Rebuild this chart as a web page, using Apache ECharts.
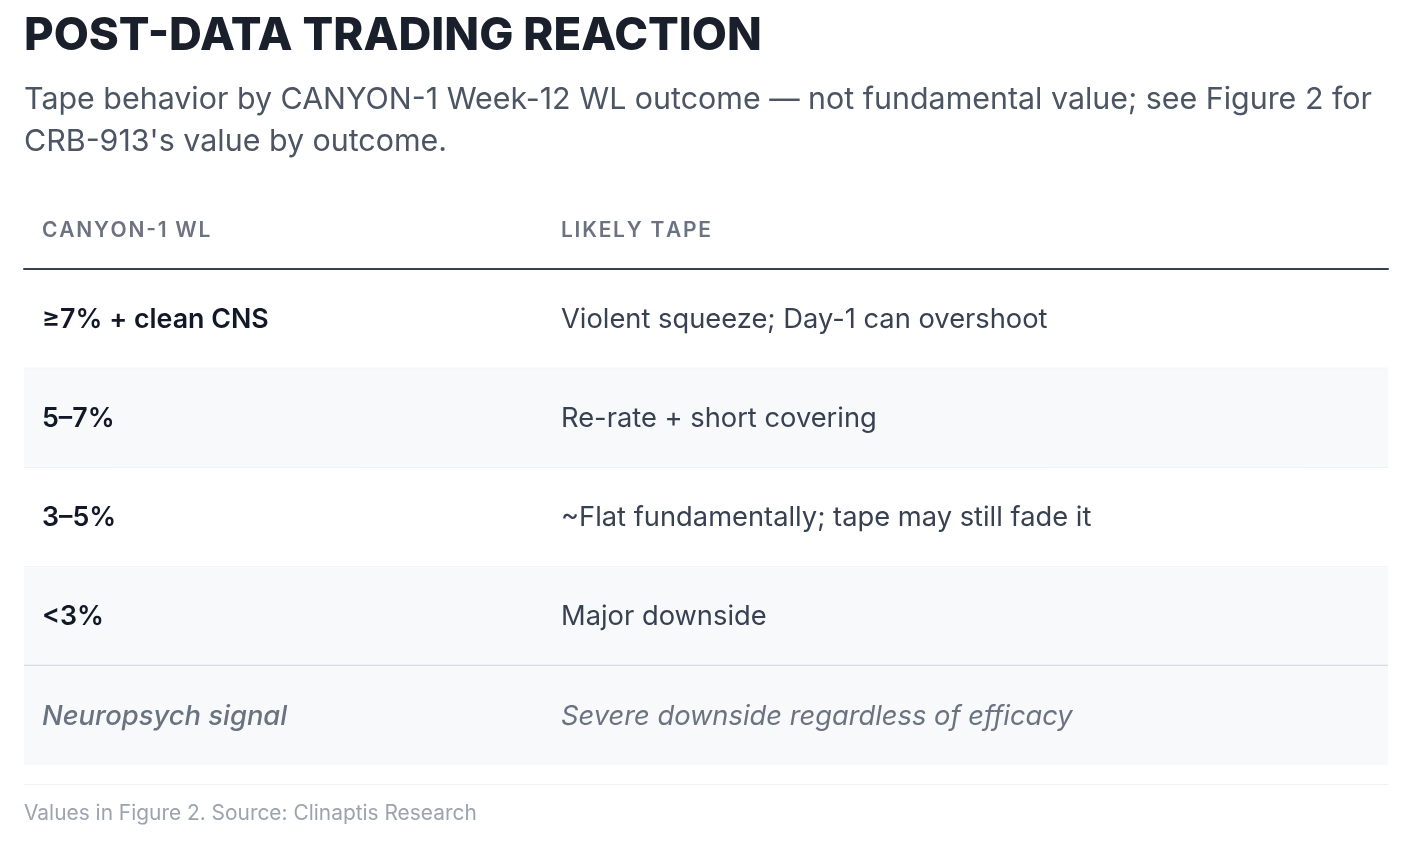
<!DOCTYPE html>
<html>
<head>
<meta charset="utf-8">
<script src="https://cdn.jsdelivr.net/npm/echarts@6/dist/echarts.min.js"></script>
<style>
  html, body { margin: 0; padding: 0; background: #ffffff; }
  #chart { width: 1402px; height: 842px; }
</style>
</head>
<body>
<div id="chart"></div>
<script>
// ---- data ----
const titleText = 'POST-DATA TRADING REACTION';
const subtitleLines = [
  'Tape behavior by CANYON-1 Week-12 WL outcome \u2014 not fundamental value; see Figure 2 for',
  "CRB-913's value by outcome."
];
const headers = ['CANYON-1 WL', 'LIKELY TAPE'];
const outcomes = ['\u22657% + clean CNS', '5\u20137%', '3\u20135%', '<3%', 'Neuropsych signal'];
const tapes = [
  'Violent squeeze; Day-1 can overshoot',
  'Re-rate + short covering',
  '~Flat fundamentally; tape may still fade it',
  'Major downside',
  'Severe downside regardless of efficacy'
];
const rowKinds = ['main', 'main', 'main', 'main', 'note'];
const footerText = 'Values in Figure 2. Source: Clinaptis Research';

// ---- layout / style ----
const FONT = 'Inter, "Noto Sans", sans-serif';
const TABLE_LEFT = 24, TABLE_RIGHT = 1388;
const COL2_OFFSET = 519; // col2 starts this far from table left
const PAD = 18;
const spaced = s => s.split('').join('\u200A');

const chart = echarts.init(document.getElementById('chart'), null, { renderer: 'canvas' });

const rowData = outcomes.map((o, i) => [0, i]);

const option = {
  backgroundColor: '#ffffff',
  animation: false,
  grid: { left: TABLE_LEFT, right: 1402 - TABLE_RIGHT, top: 269, bottom: 842 - 765, containLabel: false },
  xAxis: {
    type: 'value', min: 0, max: TABLE_RIGHT - TABLE_LEFT, position: 'top',
    axisLine: { show: true, lineStyle: { color: '#374151', width: 2 } },
    axisTick: { show: false }, axisLabel: { show: false }, splitLine: { show: false }
  },
  yAxis: {
    type: 'category', data: outcomes, inverse: true,
    axisLine: { show: false }, axisTick: { show: false }, axisLabel: { show: false }, splitLine: { show: false }
  },
  series: [{
    type: 'custom',
    coordinateSystem: 'cartesian2d',
    data: rowData,
    encode: { x: 0, y: 1 },
    z: 1,
    renderItem: function (params, api) {
      const i = api.value(1);
      const c = api.coord([0, i]);
      const h = api.size([0, 1])[1];
      const cs = params.coordSys;
      const top = c[1] - h / 2;
      const isNote = rowKinds[i] === 'note';
      const shaded = (i % 2 === 1) || isNote;
      const nextIsNote = rowKinds[i + 1] === 'note';
      const children = [];
      if (shaded) {
        children.push({ type: 'rect', shape: { x: cs.x, y: top, width: cs.width, height: h },
          style: { fill: '#f8f9fb' } });
      }
      if (i < outcomes.length - 1) {
        children.push({ type: 'line',
          shape: { x1: cs.x, y1: top + h, x2: cs.x + cs.width, y2: top + h },
          style: { stroke: nextIsNote ? '#d1d5db' : '#eef0f3', lineWidth: nextIsNote ? 2 : 1 } });
      }
      children.push({ type: 'text', x: cs.x + PAD, y: c[1] + 1,
        style: { text: outcomes[i], fill: isNote ? '#6b7280' : '#111827',
          font: (isNote ? 'italic 500 27.4px ' : '600 26.8px ') + FONT,
          textAlign: 'left', textVerticalAlign: 'middle' } });
      children.push({ type: 'text', x: cs.x + COL2_OFFSET + PAD, y: c[1] + 1,
        style: { text: tapes[i], fill: isNote ? '#6b7280' : '#374151',
          font: (isNote ? 'italic 400 ' : '400 ') + '27.3px ' + FONT,
          textAlign: 'left', textVerticalAlign: 'middle' } });
      return { type: 'group', children: children };
    }
  }],
  graphic: [
    { type: 'text', x: 24, y: 36, z: 10,
      style: { text: titleText, fill: '#1a1f2c', font: '800 45.5px ' + FONT, textVerticalAlign: 'middle' } },
    { type: 'text', x: 24, y: 79, z: 10,
      style: { text: subtitleLines.join('\n'), fill: '#4b5563', font: '400 30.4px ' + FONT, lineHeight: 42 } },
    { type: 'text', x: TABLE_LEFT + PAD, y: 231, z: 10,
      style: { text: spaced(headers[0]), fill: '#6b7280', font: '600 21px ' + FONT, textVerticalAlign: 'middle' } },
    { type: 'text', x: TABLE_LEFT + COL2_OFFSET + PAD, y: 231, z: 10,
      style: { text: spaced(headers[1]), fill: '#6b7280', font: '600 21px ' + FONT, textVerticalAlign: 'middle' } },
    { type: 'line', z: 10, shape: { x1: TABLE_LEFT, y1: 784.5, x2: TABLE_RIGHT, y2: 784.5 },
      style: { stroke: '#f0f1f3', lineWidth: 1 } },
    { type: 'text', x: 24, y: 814, z: 10,
      style: { text: footerText, fill: '#9ca3af', font: '400 20.9px ' + FONT, textVerticalAlign: 'middle' } }
  ]
};
chart.setOption(option);
</script>
</body>
</html>
